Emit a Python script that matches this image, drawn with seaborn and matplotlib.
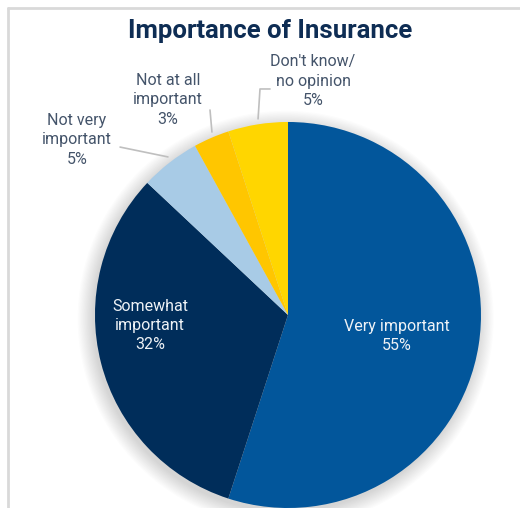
import matplotlib
matplotlib.use("Agg")
import matplotlib.pyplot as plt
from matplotlib.patches import Circle
from matplotlib.lines import Line2D
import seaborn as sns

# data, clockwise from 12 o'clock
categories = ["Very important", "Somewhat\nimportant", "Not very\nimportant",
              "Not at all\nimportant", "Don't know/\nno opinion"]
shares = [55, 32, 5, 3, 5]
colors = ["#02569B", "#002D5A", "#A8CBE6", "#FFC600", "#FFD600"]

sns.set_theme(style="white")
plt.rcParams["font.family"] = ["Roboto", "DejaVu Sans"]

fig = plt.figure(figsize=(5.2, 5.08), dpi=100)
ax = fig.add_axes([0, 0, 1, 1])

# soft shadow
for i in range(14):
    ax.add_patch(Circle((-0.012, -0.02), 1.0 + 0.006 * i, color="black",
                        alpha=0.013, lw=0, zorder=0))

wedges, _ = ax.pie(shares, colors=colors, startangle=90, counterclock=False,
                   radius=1.0, wedgeprops=dict(linewidth=0))
for w in wedges:
    w.set_zorder(2)

ax.set_xlim(-1.492, 1.202)
ax.set_ylim(-1.0, 1.632)
ax.set_aspect("equal")
ax.axis("off")

# label placements (data coords)
pos = [(0.565, -0.11), (-0.715, -0.055), (-1.093, 0.907),
       (-0.622, 1.114), (0.130, 1.212)]
inside = [True, True, False, False, False]
for cat, s, (x, y), ins in zip(categories, shares, pos, inside):
    ax.text(x, y, f"{cat}\n{s}%", ha="center", va="center", fontsize=11.5,
            color="#EEF2F6" if ins else "#44546A", linespacing=1.35, zorder=3)

leaders = [
    ([-0.870, -0.622], [0.870, 0.819]),
    ([-0.404, -0.394], [1.062, 0.948]),
    ([-0.093, -0.145, -0.155], [1.171, 1.171, 1.016]),
]
for xs, ys in leaders:
    ax.plot(xs, ys, color="#BFBFBF", lw=1.2, zorder=3)

fig.text(270 / 520, 1 - 31 / 508, "Importance of Insurance", ha="center",
         va="center", fontsize=18.5, fontweight="bold", color="#0E2D54")

# chart frame
fig.add_artist(Line2D([8 / 520, 1], [1 - 8 / 508] * 2, color="#D9D9D9", lw=2))
fig.add_artist(Line2D([8 / 520] * 2, [0, 1 - 8 / 508], color="#D9D9D9", lw=2))

fig.savefig("out.png", dpi=100, facecolor="white")
